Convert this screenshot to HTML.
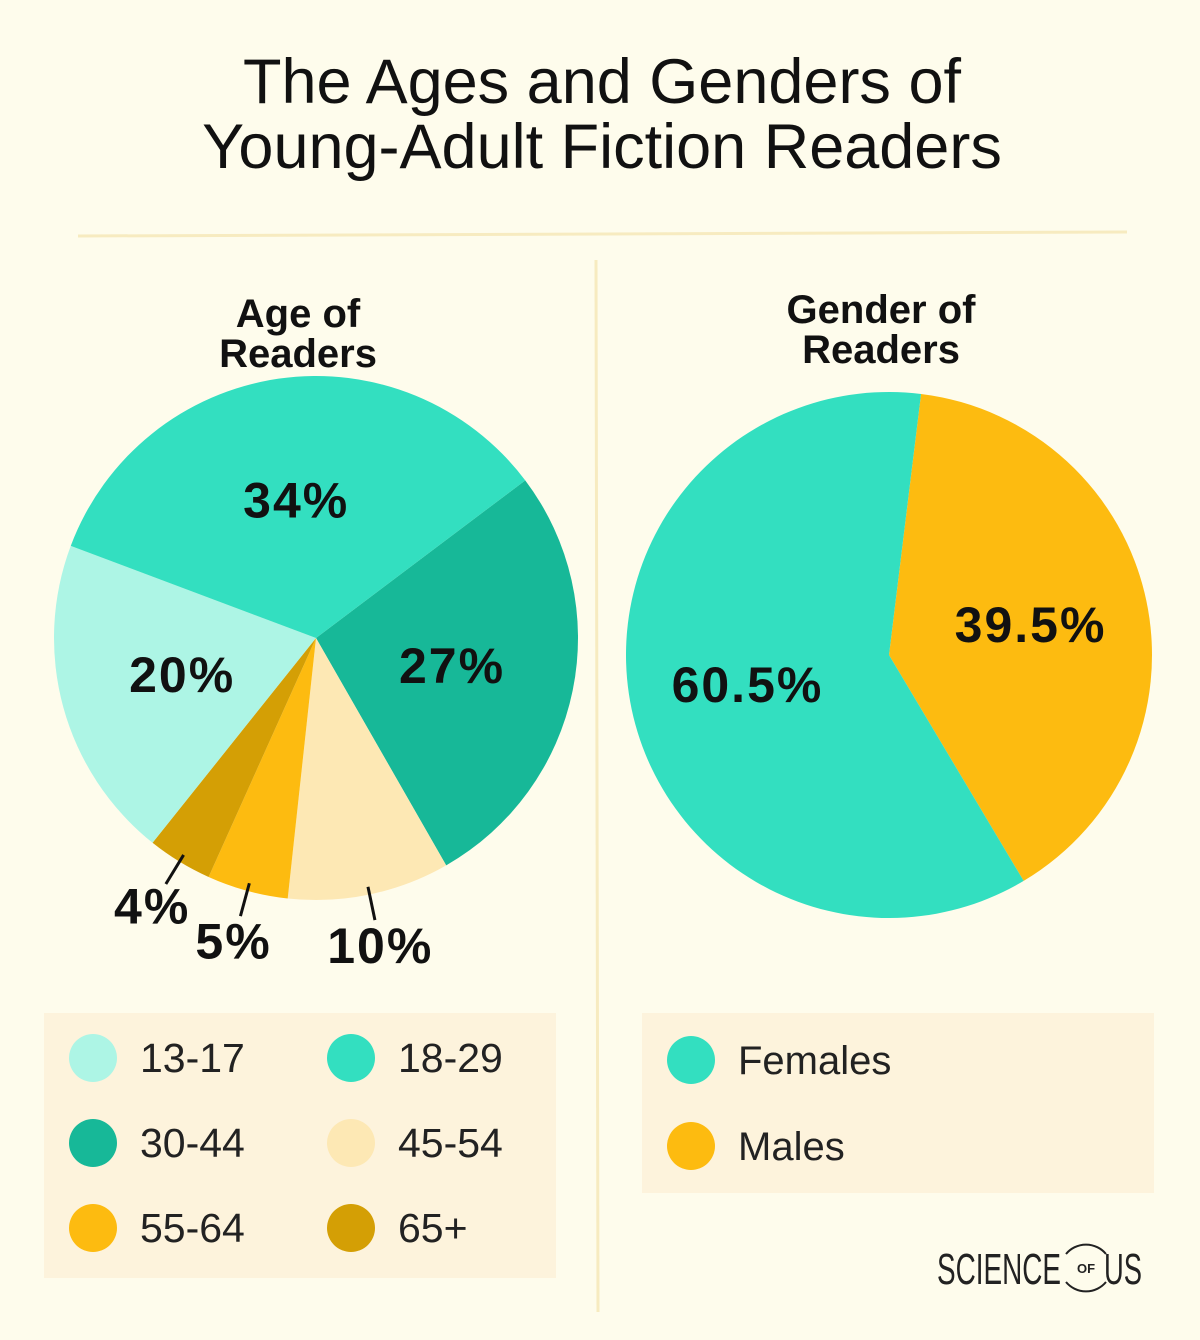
<!DOCTYPE html>
<html><head><meta charset="utf-8"><style>
body{margin:0;background:#fefcec;}
svg{display:block;font-family:"Liberation Sans",sans-serif;}
</style></head><body>
<svg id="c" width="1200" height="1340" viewBox="0 0 1200 1340">
<rect width="1200" height="1340" fill="#fefcec"/>
<text x="602" y="103" text-anchor="middle" font-size="63" fill="#111">The Ages and Genders of</text>
<text x="602" y="168" text-anchor="middle" font-size="63" fill="#111">Young-Adult Fiction Readers</text>
<line x1="78" y1="236" x2="1127" y2="232" stroke="#f7ebc0" stroke-width="3"/>
<line x1="596" y1="260" x2="598" y2="1312" stroke="#f7ebc0" stroke-width="3"/>
<text x="298" y="327" text-anchor="middle" font-size="40" font-weight="bold" fill="#111">Age of</text>
<text x="298" y="367" text-anchor="middle" font-size="40" font-weight="bold" fill="#111">Readers</text>
<text x="881" y="323" text-anchor="middle" font-size="40" font-weight="bold" fill="#111">Gender of</text>
<text x="881" y="363" text-anchor="middle" font-size="40" font-weight="bold" fill="#111">Readers</text>
<g id="age"></g><g id="gender"></g>
<rect x="44" y="1013" width="512" height="265" fill="#fdf3dc"/>
<rect x="642" y="1013" width="512" height="180" fill="#fdf3dc"/>
<g id="leg"></g>
<g>
<text x="937" y="1284" font-size="44" fill="#222" textLength="124" lengthAdjust="spacingAndGlyphs">SCIENCE</text>
<path d="M1066 1254 A26 26 0 0 1 1106 1254 M1066 1282 A26 26 0 0 0 1106 1282" fill="none" stroke="#222" stroke-width="2"/>
<text x="1086" y="1273" font-size="13" font-weight="bold" text-anchor="middle" fill="#222">OF</text>
<text x="1104" y="1284" font-size="44" fill="#222" textLength="38" lengthAdjust="spacingAndGlyphs">US</text>
</g>
</svg>
<script>
const ageCats=["30-44","45-54","55-64","65+","13-17","18-29"];
const ageVals=[27,10,5,4,20,34];
const ageLabels=["27%","10%","5%","4%","20%","34%"];
const genderCats=["Males","Females"];
const genderVals=[39.5,60.5];
const genderLabels=["39.5%","60.5%"];
const ageColors={"13-17":"#adf5e5","18-29":"#33dfc0","30-44":"#17b898","45-54":"#fde8b4","55-64":"#fdbb10","65+":"#d49f05"};
const genderColors={"Females":"#33dfc0","Males":"#fdbb10"};
const NS="http://www.w3.org/2000/svg";
function mk(t,a,p){const e=document.createElementNS(NS,t);for(const k in a)e.setAttribute(k,a[k]);p.appendChild(e);return e;}
function pt(cx,cy,r,deg){const a=deg*Math.PI/180;return[cx+r*Math.sin(a),cy-r*Math.cos(a)];}
function pie(g,cats,vals,labels,colors,cx,cy,r,start,lf){
  const tot=vals.reduce((a,b)=>a+b,0);let a0=start;
  cats.forEach((c,i)=>{
    const span=vals[i]/tot*360,a1=a0+span;
    const p0=pt(cx,cy,r,a0),p1=pt(cx,cy,r,a1);
    const s=mk('path',{d:`M${cx} ${cy}L${p0[0]} ${p0[1]}A${r} ${r} 0 ${span>180?1:0} 1 ${p1[0]} ${p1[1]}Z`,fill:colors[c]},g);
    
    
    const m=(a0+a1)/2;let lp;
    if(vals[i]/tot>=0.15){lp=pt(cx,cy,r*lf,m);}
    else{const q0=pt(cx,cy,r*0.97,m),q1=pt(cx,cy,r*1.1,m);
      const l=mk('line',{x1:q0[0],y1:q0[1],x2:q1[0],y2:q1[1],stroke:'#111','stroke-width':3},g);
      
      
      lp=pt(cx,cy,r*1.2,m);}
    const t=mk('text',{x:lp[0],y:lp[1]+17,'text-anchor':'middle','font-size':50,'font-weight':'bold','letter-spacing':2,fill:'#111'},g);
    t.textContent=labels[i];
    
    
    a0=a1;});
}
pie(document.getElementById('age'),ageCats,ageVals,ageLabels,ageColors,316,638,262,53,0.53);
pie(document.getElementById('gender'),genderCats,genderVals,genderLabels,genderColors,889,655,263,7,0.55);
const leg=document.getElementById('leg');
const ageOrder=["13-17","18-29","30-44","45-54","55-64","65+"];
ageOrder.forEach((c,i)=>{const x=i%2?351:93,y=1058+Math.floor(i/2)*85;
  const ci=mk('circle',{cx:x,cy:y,r:24,fill:ageColors[c]},leg);
  
  
  const t=mk('text',{x:x+47,y:y+14,'font-size':41,fill:'#222'},leg);t.textContent=c;
  
  });
["Females","Males"].forEach((c,i)=>{const x=691,y=1060+i*86;
  const ci=mk('circle',{cx:x,cy:y,r:24,fill:genderColors[c]},leg);
  
  
  const t=mk('text',{x:x+47,y:y+14,'font-size':40,fill:'#222'},leg);t.textContent=c;
  
  });
</script>
</body></html>
